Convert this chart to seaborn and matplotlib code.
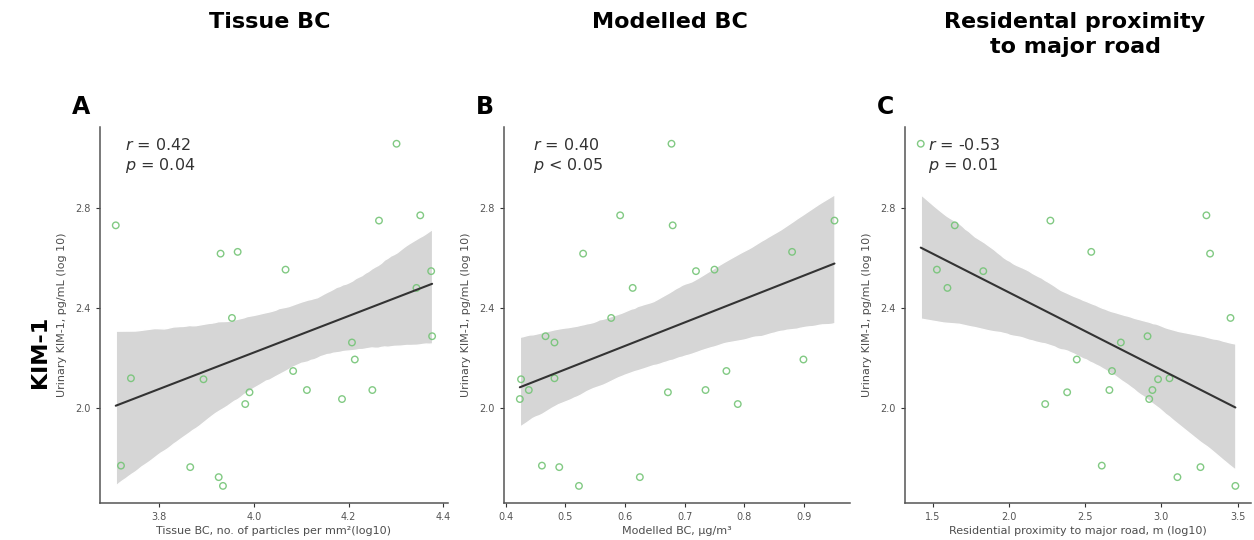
import numpy as np
import pandas as pd
import matplotlib
matplotlib.use('Agg')
import matplotlib.pyplot as plt
from matplotlib.collections import PolyCollection
import seaborn as sns

# ── Data ─────────────────────────────────────────────────────
kim1 = [3.057, 2.771, 2.750, 2.731, 2.625, 2.618, 2.554, 2.548, 2.481,
        2.361, 2.288, 2.263, 2.195, 2.149, 2.120, 2.116, 2.073, 2.073,
        2.064, 2.037, 2.017, 1.771, 1.765, 1.725, 1.690]

tissue_bc = [4.301, 4.351, 4.264, 3.709, 3.966, 3.930, 4.067, 4.374, 4.343,
             3.954, 4.376, 4.207, 4.213, 4.083, 3.741, 3.894, 4.112, 4.250,
             3.991, 4.186, 3.982, 3.720, 3.866, 3.926, 3.935]

modelled_bc = [0.678, 0.592, 0.951, 0.680, 0.880, 0.530, 0.750, 0.719, 0.613,
               0.577, 0.467, 0.482, 0.899, 0.770, 0.482, 0.426, 0.439, 0.735,
               0.672, 0.424, 0.789, 0.461, 0.490, 0.625, 0.523]

road_dist = [1.422, 3.295, 2.272, 1.645, 2.540, 3.319, 1.528, 1.832, 1.597,
             3.453, 2.909, 2.734, 2.445, 2.676, 3.053, 2.978, 2.659, 2.941,
             2.382, 2.920, 2.238, 2.609, 3.256, 3.105, 3.485]

titles = ['Tissue BC', 'Modelled BC', 'Residental proximity\nto major road']
letters = ['A', 'B', 'C']
xlabels = ['Tissue BC, no. of particles per mm²(log10)',
           'Modelled BC, µg/m³',
           'Residential proximity to major road, m (log10)']
stats_r = ['0.42', '0.40', '-0.53']
stats_p = ['= 0.04', '< 0.05', '= 0.01']
xticks = [[3.8, 4.0, 4.2, 4.4],
          [0.4, 0.5, 0.6, 0.7, 0.8, 0.9],
          [1.5, 2.0, 2.5, 3.0, 3.5]]
yticks = [2.0, 2.4, 2.8]

# ── Style ────────────────────────────────────────────────────
sns.set_theme(style='ticks')
plt.rcParams['font.family'] = ['DejaVu Sans']

POINT_COL = '#74c476'
LINE_COL = '#333333'
BAND_COL = '#d6d6d6'
TEXT_COL = '#4d4d4d'

fig = plt.figure(figsize=(12.54, 5.4), dpi=100)
fig.patch.set_facecolor('white')

lefts = [0.0797, 0.402, 0.7217]
widths = [0.2775, 0.276, 0.276]
bottom, height = 0.0685, 0.697
text_x = [0.072, 0.083, 0.066]

xs_all = [tissue_bc, modelled_bc, road_dist]

for i in range(3):
    ax = fig.add_axes([lefts[i], bottom, widths[i], height])
    df = pd.DataFrame({'x': xs_all[i], 'y': kim1})

    sns.regplot(
        data=df, x='x', y='y', ax=ax,
        ci=95, n_boot=1000, seed=3, truncate=True,
        scatter_kws=dict(color='none', edgecolors=POINT_COL,
                         s=22, linewidths=1.0, alpha=0.9, zorder=3),
        line_kws=dict(color=LINE_COL, lw=1.5, zorder=4),
    )

    # ggplot-like grey confidence band behind the points
    for coll in ax.collections:
        if isinstance(coll, PolyCollection):
            coll.set_facecolor(BAND_COL)
            coll.set_alpha(1.0)
            coll.set_zorder(1)

    xmin, xmax = min(xs_all[i]), max(xs_all[i])
    pad = (xmax - xmin) * 0.05
    ax.set_xlim(xmin - pad, xmax + pad)
    ymin, ymax = min(kim1), max(kim1)
    ypad = (ymax - ymin) * 0.05
    ax.set_ylim(ymin - ypad, ymax + ypad)

    ax.set_xticks(xticks[i])
    ax.set_yticks(yticks)
    ax.set_xticklabels([f'{t:.1f}' for t in xticks[i]])
    ax.set_yticklabels([f'{t:.1f}' for t in yticks])
    ax.tick_params(labelsize=7, colors='#333333', labelcolor='#555555',
                   length=3, width=0.8)

    sns.despine(ax=ax)
    for side in ['left', 'bottom']:
        ax.spines[side].set_color('#555555')
        ax.spines[side].set_linewidth(1.1)

    ax.set_xlabel(xlabels[i], fontsize=8, color=TEXT_COL, labelpad=3)
    ax.set_ylabel('Urinary KIM-1, pg/mL (log 10)', fontsize=8,
                  color=TEXT_COL, labelpad=6)

    ax.text(text_x[i], 0.952, '$r$ = ' + stats_r[i], transform=ax.transAxes,
            fontsize=11.5, color='#333333', va='center', ha='left')
    ax.text(text_x[i], 0.898, '$p$ ' + stats_p[i], transform=ax.transAxes,
            fontsize=11.5, color='#333333', va='center', ha='left')

# ── Column titles, panel letters, row label ─────────────────
title_x = [270 / 1254, 670 / 1254, 1075 / 1254]
for i in range(3):
    fig.text(title_x[i], 1 - 12 / 540, titles[i], ha='center', va='top',
             fontsize=16, fontweight='bold', color='black', linespacing=1.3)

letter_x = [72 / 1254, 476 / 1254, 877 / 1254]
for i in range(3):
    fig.text(letter_x[i], 1 - 107 / 540, letters[i], ha='left',
             va='center', fontsize=17, fontweight='bold', color='black')

fig.text(40 / 1254, 1 - 352 / 540, 'KIM-1', rotation=90, ha='center',
         va='center', fontsize=16, fontweight='bold', color='black')

plt.savefig('out.png', dpi=100, facecolor='white')
plt.close()
